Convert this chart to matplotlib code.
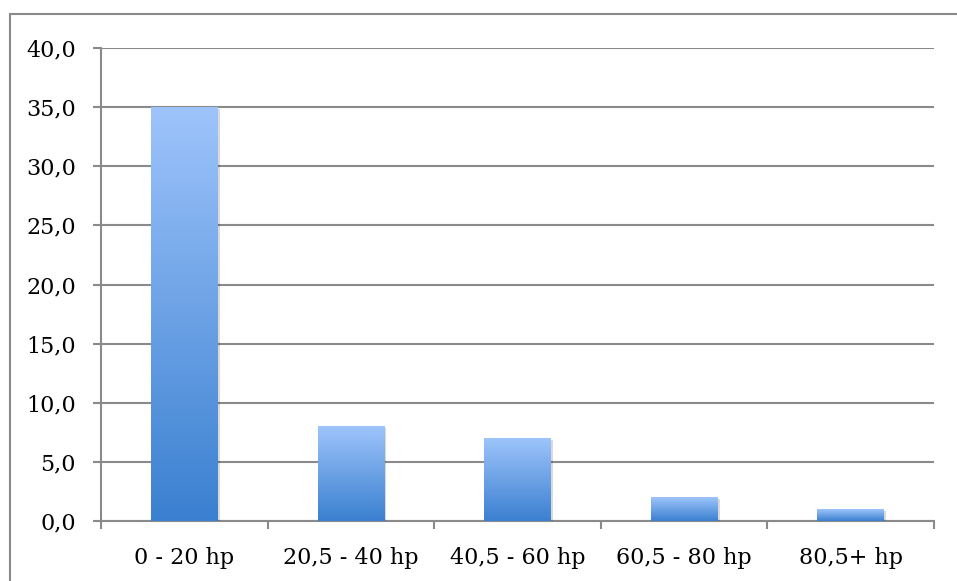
import numpy as np
import matplotlib.pyplot as plt
from matplotlib.lines import Line2D
from matplotlib import patheffects as pe

# data
categories = ["0 - 20 hp", "20,5 - 40 hp", "40,5 - 60 hp", "60,5 - 80 hp", "80,5+ hp"]
values = [35.0, 8.0, 7.0, 2.0, 1.0]
y_ticks = [0, 5, 10, 15, 20, 25, 30, 35, 40]

plt.rcParams['font.family'] = ['DejaVu Serif']

fig = plt.figure(figsize=(9.57, 5.81), dpi=100)
ax = fig.add_axes([101 / 957, 1 - 521 / 581, (934 - 101) / 957, (521 - 48) / 581])

grid_col = "#8a8a8a"

# outer chart frame (only left and top edges are visible in the reference)
fig.add_artist(Line2D([9.5 / 957, 9.5 / 957], [-0.05, 1 - 14 / 581], color=grid_col, lw=1.5,
                      solid_capstyle="butt", transform=fig.transFigure))
fig.add_artist(Line2D([9 / 957, 1.05], [1 - 14 / 581, 1 - 14 / 581], color=grid_col, lw=1.5,
                      solid_capstyle="butt", transform=fig.transFigure))

x = np.arange(len(categories))
width = 0.40

# gradient: light blue at top, darker blue at the bottom of each bar
top_c = np.array([0x9e, 0xc4, 0xfb]) / 255
bot_c = np.array([0x3a, 0x80, 0xd0]) / 255
grad = np.linspace(0, 1, 256)[:, None]
img = bot_c[None, None, :] * (1 - grad[..., None]) + top_c[None, None, :] * grad[..., None]

bars = ax.bar(x, values, width, color="none", edgecolor="none", zorder=3,
              path_effects=[pe.SimplePatchShadow(offset=(1.5, -1.5), shadow_rgbFace="#000000", alpha=0.15),
                            pe.Normal()])
for b, v in zip(bars, values):
    x0 = b.get_x()
    im = ax.imshow(img, extent=[x0, x0 + width, 0, v], origin="lower", aspect="auto", zorder=4)
    im.set_clip_path(b)

ax.set_xlim(-0.5, len(categories) - 0.5)
ax.set_ylim(0, 40)

ax.set_yticks(y_ticks)
ax.set_yticklabels([f"{t:.1f}".replace(".", ",") for t in y_ticks])
ax.set_xticks(x)
ax.set_xticklabels(categories)
ax.set_xticks(np.arange(len(categories) + 1) - 0.5, minor=True)

ax.grid(axis="y", color=grid_col, lw=1.5, zorder=1)
for s in ["top", "right"]:
    ax.spines[s].set_visible(False)
for s in ["left", "bottom"]:
    ax.spines[s].set_color(grid_col)
    ax.spines[s].set_linewidth(1.5)

ax.tick_params(axis="y", length=6, width=1.5, color=grid_col, pad=12, labelsize=16)
ax.tick_params(axis="x", which="major", length=0, pad=19, labelsize=16)
ax.tick_params(axis="x", which="minor", length=6, width=1.5, color=grid_col)

fig.savefig("out.png", dpi=100)
